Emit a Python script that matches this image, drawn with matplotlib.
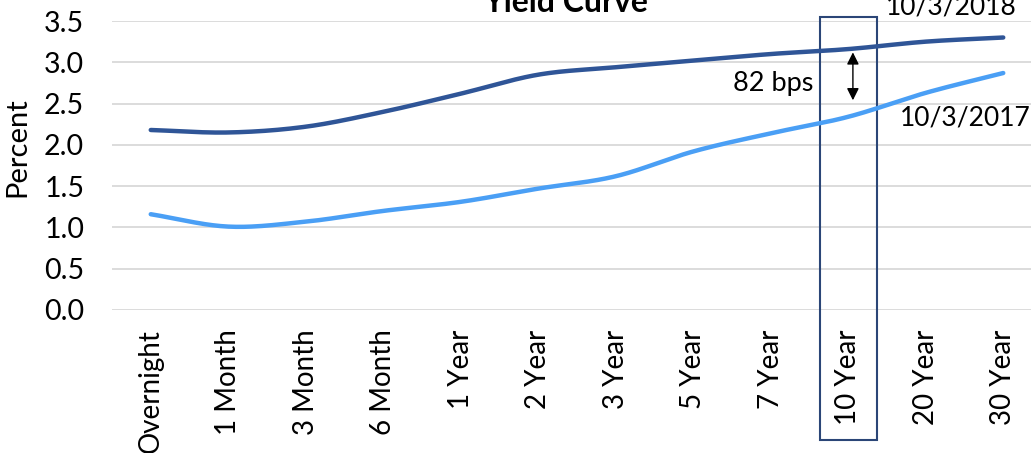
import numpy as np
import matplotlib.pyplot as plt
from matplotlib.patches import Rectangle

plt.rcParams["font.family"] = ["Lato", "DejaVu Sans"]

tenors = ["Overnight", "1 Month", "3 Month", "6 Month", "1 Year", "2 Year",
          "3 Year", "5 Year", "7 Year", "10 Year", "20 Year", "30 Year"]
yield_2018 = [2.18, 2.15, 2.22, 2.40, 2.62, 2.85, 2.94, 3.02, 3.10, 3.16, 3.25, 3.30]
yield_2017 = [1.16, 1.01, 1.07, 1.20, 1.31, 1.47, 1.62, 1.92, 2.14, 2.34, 2.63, 2.87]
spread_bps = 82
focus = "10 Year"


def smooth(y, n=30):
    # Catmull-Rom pass through the points, like a spreadsheet "smoothed line"
    y = np.asarray(y, float)
    x = np.arange(len(y), dtype=float)
    px = np.concatenate([[2 * x[0] - x[1]], x, [2 * x[-1] - x[-2]]])
    py = np.concatenate([[2 * y[0] - y[1]], y, [2 * y[-1] - y[-2]]])
    xs, ys = [], []
    t = np.linspace(0, 1, n, endpoint=False)
    for i in range(1, len(px) - 2):
        for arr, out in ((px, xs), (py, ys)):
            p0, p1, p2, p3 = arr[i - 1:i + 3]
            out.extend(0.5 * (2 * p1 + (-p0 + p2) * t
                              + (2 * p0 - 5 * p1 + 4 * p2 - p3) * t ** 2
                              + (-p0 + 3 * p1 - 3 * p2 + p3) * t ** 3))
    xs.append(x[-1]); ys.append(y[-1])
    return np.array(xs), np.array(ys)


fig = plt.figure(figsize=(10.31, 4.53), dpi=100)
ax = fig.add_axes([112 / 1031, 1 - 310 / 453, 930 / 1031, 289 / 453])

for s, c in ((yield_2018, "#2F5597"), (yield_2017, "#4A9FF5")):
    xs, ys = smooth(s)
    ax.plot(xs, ys, color=c, lw=3.2, solid_capstyle="round", clip_on=False)

ax.set_xlim(-0.5, len(tenors) - 0.5)
ax.set_ylim(0, 3.5)
ax.set_yticks(np.arange(0, 3.51, 0.5))
ax.set_yticklabels([f"{v:.1f}" for v in np.arange(0, 3.51, 0.5)])
ax.set_xticks(range(len(tenors)))
ax.set_xticklabels(tenors, rotation=90, va="top")
ax.tick_params(length=0)
ax.tick_params(axis="x", pad=14, labelsize=20)
ax.tick_params(axis="y", pad=20, labelsize=20.5)
ax.grid(axis="y", color="#D9D9D9", lw=1.3)
ax.set_axisbelow(True)
for sp in ax.spines.values():
    sp.set_visible(False)

# highlight box around the 10-year tenor
i10 = tenors.index(focus)
ax.add_patch(Rectangle((i10 - 0.37, -1.57), 0.74, 5.12, fill=False,
                       ec="#2B4677", lw=1.5, clip_on=False))

# spread arrow between the two curves
ax.annotate("", xy=(i10 + 0.06, 3.12), xytext=(i10 + 0.06, 2.54),
            arrowprops=dict(arrowstyle="<|-|>", color="black", lw=1,
                            mutation_scale=18, shrinkA=0, shrinkB=0))
ax.text(i10 - 0.45, 2.74, f"{spread_bps} bps", fontsize=19.5,
        ha="right", va="center")

ax.text(i10 + 0.48, 3.67, "10/3/2018", fontsize=19, ha="left", va="center",
        clip_on=False)
ax.text(i10 + 0.67, 2.32, "10/3/2017", fontsize=19, ha="left", va="center",
        clip_on=False)

fig.text(17 / 1031, 1 - 147 / 453, "Percent", rotation=90, fontsize=21,
         ha="center", va="center")
fig.text(566 / 1031, 1 - 12 / 453, "Yield Curve", fontsize=23, fontweight="bold",
         ha="center", va="baseline")

fig.savefig("out.png", dpi=100)
